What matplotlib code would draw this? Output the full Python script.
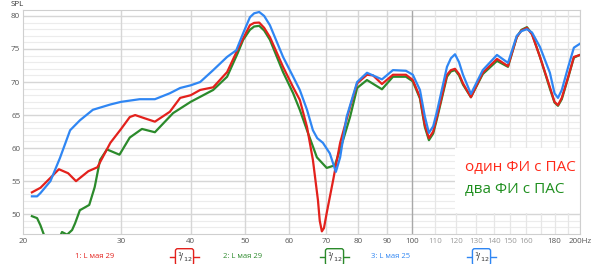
import matplotlib
matplotlib.use('Agg')
import matplotlib.pyplot as plt
from matplotlib.patches import Rectangle

# ---------------- data ----------------
freq_red = [20.75, 21.5, 22.4, 23.2, 24.1, 24.9, 26.2, 27.2, 27.8, 28.7, 30.0, 31.1, 31.8, 33.1, 34.5,
            36.7, 38.3, 40.0, 41.6, 43.9, 46.5, 48.5, 49.7, 51.1, 52.0, 53.1, 54.2, 55.5, 58.6, 61.1,
            62.8, 64.7, 66.3, 67.7, 68.2, 68.8, 69.4, 70.2, 72.1, 74.2, 77.3, 79.6, 82.9, 85.0, 88.2,
            92.3, 97.4, 100.2, 103.2, 105.3, 107.1, 109.0, 110.7, 115.4, 117.3, 119.3, 121.3, 123.3,
            127.4, 133.8, 141.9, 148.5, 154.0, 157.0, 160.6, 164.0, 169.5, 176.6, 180.0, 182.6,
            185.5, 190.5, 195.0, 200.0]
spl_red = [53.3, 54.0, 55.5, 56.8, 56.2, 55.0, 56.5, 57.1, 58.6, 60.8, 62.9, 64.7, 65.0, 64.5, 64.0,
           65.5, 67.6, 68.0, 68.8, 69.2, 71.5, 74.8, 76.6, 78.6, 78.95, 79.0, 78.2, 76.8, 72.3, 69.2,
           67.3, 63.2, 58.2, 52.1, 49.0, 47.4, 47.9, 50.2, 55.2, 60.8, 66.2, 69.8, 71.1, 71.0, 69.7,
           71.1, 71.1, 70.3, 67.7, 63.5, 61.5, 62.5, 64.7, 71.1, 71.8, 72.0, 71.2, 69.8,
           67.7, 71.4, 73.5, 72.4, 76.8, 77.8, 78.2, 77.2, 73.8, 69.2, 67.0, 66.5,
           67.6, 70.8, 73.8, 74.1]

freq_green = [20.75, 21.2, 21.5, 22.0, 22.6, 23.0, 23.5, 24.0, 24.5, 24.8, 25.3, 25.8, 26.3, 26.9,
              27.5, 28.3, 29.8, 31.1, 32.7, 34.5, 37.2, 40.0, 43.9, 46.5, 48.6, 49.7, 51.1, 52.0,
              53.1, 54.2, 55.5, 58.6, 61.1, 62.8, 64.7, 67.4, 70.2, 72.6, 75.1, 77.3, 79.6, 82.9,
              88.2, 92.3, 97.4, 100.2, 103.2, 105.3, 107.1, 109.0, 110.7, 115.4, 117.3, 119.3,
              121.3, 123.3, 127.4, 133.8, 141.9, 148.5, 154.0, 157.0, 160.6, 164.0, 169.5, 176.6,
              180.0, 182.6, 185.5, 190.5, 195.0, 200.0]
spl_green = [49.7, 49.4, 48.3, 46.0, 45.0, 45.5, 47.3, 46.9, 47.6, 48.6, 50.6, 51.0, 51.4, 54.1,
             58.2, 59.8, 59.0, 61.6, 62.9, 62.4, 65.3, 67.0, 68.8, 70.8, 74.4, 76.4, 77.9, 78.4,
             78.5, 77.8, 76.4, 71.5, 68.3, 65.8, 62.7, 58.6, 57.0, 57.4, 61.2, 64.7, 69.1, 70.3,
             68.9, 70.8, 70.8, 70.1, 67.5, 63.2, 61.2, 62.2, 64.4, 70.8, 71.6, 71.8,
             71.0, 69.6, 67.7, 71.2, 73.2, 72.3, 76.8, 77.9, 78.3, 77.3, 73.8, 69.0,
             66.9, 66.4, 67.4, 70.7, 73.7, 74.1]

freq_blue = [20.75, 21.2, 21.5, 22.4, 23.3, 24.3, 25.3, 26.7, 28.7, 30.0, 32.4, 34.5, 36.7, 38.3,
             40.0, 41.6, 43.9, 46.5, 48.3, 49.7, 51.1, 52.0, 53.1, 54.2, 55.5, 58.6, 61.1, 62.8,
             64.7, 66.3, 67.5, 69.1, 71.1, 72.9, 74.2, 76.2, 79.6, 82.9, 88.2, 92.3, 97.4, 100.2,
             103.2, 105.3, 107.1, 109.0, 110.7, 115.4, 117.3, 119.3, 121.3, 123.3, 127.4, 133.8,
             141.9, 148.5, 154.0, 157.0, 160.6, 164.0, 169.5, 176.6, 180.0, 182.6, 185.5, 190.5,
             195.0, 200.0]
spl_blue = [52.7, 52.7, 53.2, 55.0, 58.5, 62.7, 64.2, 65.8, 66.6, 67.0, 67.4, 67.4, 68.3, 69.1,
            69.5, 70.0, 71.8, 73.8, 74.8, 77.4, 79.8, 80.4, 80.6, 80.0, 78.6, 73.8, 70.8, 68.8,
            65.8, 62.7, 61.5, 60.8, 59.2, 56.4, 58.6, 64.7, 70.0, 71.4, 70.4, 71.8, 71.7, 71.1,
            68.8, 64.8, 62.3, 63.3, 65.5, 72.3, 73.6, 74.2, 73.0, 71.1, 68.2, 71.8,
            74.1, 72.9, 77.0, 77.7, 78.0, 77.5, 75.3, 71.4, 68.3, 67.6, 68.8, 72.3,
            75.2, 75.8]

series_labels = ["1: L мая 29", "2: L мая 29", "3: L мая 25"]
series_colors = ["#e3211c", "#2b8a2b", "#2f86f3"]

x_ticks = [20, 30, 40, 50, 60, 70, 80, 90, 100, 110, 120, 130, 140, 150, 160, 180, 200]
x_tick_labels = ["20", "30", "40", "50", "60", "70", "80", "90", "100", "110", "120", "130",
                 "140", "150", "160", "180", "200Hz"]
y_ticks = [50, 55, 60, 65, 70, 75, 80]

note_lines = ["один ФИ с ПАС", "два ФИ с ПАС"]
note_colors = ["#ff2a1a", "#1f8f1f"]

# ---------------- figure ----------------
plt.rcParams['font.family'] = ['Open Sans', 'DejaVu Sans']
W, H = 591, 264
fig = plt.figure(figsize=(W / 100, H / 100), dpi=100)
ax = fig.add_axes([23 / W, 1 - 234 / H, (580 - 23) / W, (234 - 10) / H])
ax.set_xscale('log')
ax.set_xlim(20, 200)
ax.set_ylim(47, 80.9)

# grid
for v in range(48, 81):
    major = (v % 5 == 0)
    ax.axhline(v, color='#d6d6d6' if major else '#ececec', lw=1.0 if major else 0.8, zorder=0)
for f in range(30, 201, 10):
    if f == 100:
        ax.axvline(f, color='#a8a8a8', lw=1.0, zorder=0.5)
    elif f < 100:
        ax.axvline(f, color='#d6d6d6', lw=1.0, zorder=0.5)
    else:
        ax.axvline(f, color='#e6e6e6', lw=0.9, zorder=0.5)

# note box (white)
ax.add_patch(Rectangle((455 / W, 1 - 213 / H), (580 - 455) / W, 65 / H,
                       transform=fig.transFigure, fc='white', ec='none', zorder=1))

ax.plot(freq_green, spl_green, color=series_colors[1], lw=1.6, zorder=3, solid_joinstyle='round')
ax.plot(freq_red, spl_red, color=series_colors[0], lw=1.6, zorder=4, solid_joinstyle='round')
ax.plot(freq_blue, spl_blue, color=series_colors[2], lw=1.6, zorder=5, solid_joinstyle='round')

for sp in ax.spines.values():
    sp.set_color('#cfcfcf')
    sp.set_linewidth(0.8)

ax.set_xticks(x_ticks)
ax.set_xticklabels(x_tick_labels)
ax.xaxis.set_minor_locator(plt.NullLocator())
ax.tick_params(axis='x', length=0, pad=3, labelsize=5.8, labelcolor='#555555')
for lab, t in zip(ax.get_xticklabels(), x_ticks):
    if 100 < t < 180:
        lab.set_color('#9a9a9a')
ax.set_yticks(y_ticks)
ax.tick_params(axis='y', length=0, pad=2, labelsize=5.8, labelcolor='#555555')

fig.text(17 / W, 1 - 5 / H, "SPL", fontsize=5.8, color='#333333', ha='center', va='center')

# note text
ax.text(465 / W, 1 - 168 / H, note_lines[0], transform=fig.transFigure, color=note_colors[0],
        fontsize=11, ha='left', va='center', zorder=6)
ax.text(465 / W, 1 - 189 / H, note_lines[1], transform=fig.transFigure, color=note_colors[1],
        fontsize=11, ha='left', va='center', zorder=6)

# legend row
leg_text_x = [75, 223, 371]
leg_icon_x = [170, 320, 467]
ly = 1 - 257 / H
for lbl, col, tx, ix in zip(series_labels, series_colors, leg_text_x, leg_icon_x):
    fig.text(tx / W, ly, lbl, color=col, fontsize=5.5, ha='left', va='center')
    fig.add_artist(plt.Line2D([ix / W, (ix + 29) / W], [ly, ly], color=col, lw=1.0,
                              transform=fig.transFigure))
    fig.text((ix + 14.5) / W, ly, r"$^{1}\!/_{12}$", color='#333333', fontsize=6.5,
             ha='center', va='center',
             bbox=dict(boxstyle='round,pad=0.15,rounding_size=0.25', fc='white', ec=col, lw=1.0))

fig.savefig('out.png', dpi=100)
